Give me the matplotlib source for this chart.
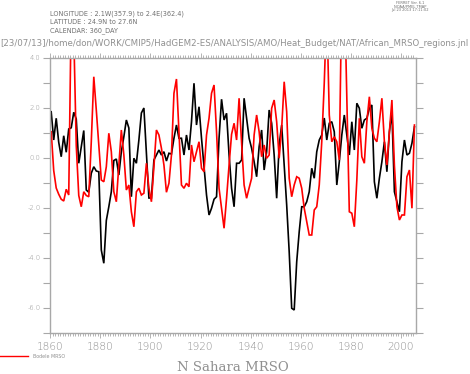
import numpy as np
import matplotlib
matplotlib.use("Agg")
import matplotlib.pyplot as plt
from matplotlib.ticker import MultipleLocator, FixedLocator, FuncFormatter

years = list(range(1860, 2006))

# N Sahara MRSO anomaly (black)
n_sahara = [
    1.85, 0.72, 1.59, 0.63, 0.05, 0.89, 0.23, 1.16, 1.21, 1.83,      # 1860s
    1.56, -0.21, 0.45, 1.10, -1.28, -1.37, -0.61, -0.35, -0.52, -0.55,  # 1870s
    -3.68, -4.21, -2.50, -1.95, -1.35, -0.10, -0.04, -0.68, 0.25, 0.85,  # 1880s
    1.52, 1.20, -1.55, -0.01, -0.21, 0.72, 1.80, 2.00, 0.20, -1.60,    # 1890s
    -1.60, -0.08, 0.12, 0.32, 0.12, 0.25, -0.12, 0.19, 0.16, 0.79,     # 1900s
    1.32, 0.79, 0.79, 0.12, 0.92, 0.32, 1.45, 2.99, 1.32, 2.05,        # 1910s
    0.79, -0.35, -1.48, -2.28, -2.01, -1.65, -1.55, 0.79, 2.35, 1.52,  # 1920s
    1.79, 0.12, -1.21, -1.95, -0.21, -0.21, -0.08, 2.39, 1.59, 0.79,   # 1930s
    0.39, -0.15, -0.75, 0.45, 1.12, -0.48, 0.25, 1.92, 1.39, 0.12,     # 1940s
    -1.61, 0.52, 1.32, -0.28, -1.88, -3.75, -6.01, -6.08, -4.15, -2.95,  # 1950s
    -1.95, -1.95, -1.75, -1.35, -0.41, -0.81, 0.25, 0.72, 0.92, 1.60,  # 1960s
    0.72, 1.39, 1.45, 1.05, -1.08, -0.15, 0.92, 1.72, 0.92, 0.12,      # 1970s
    1.45, 0.32, 2.19, 1.99, 1.19, 1.52, 1.59, 1.99, 2.12, -0.95,       # 1980s
    -1.61, -0.81, -0.15, 0.65, -0.55, 1.05, 1.85, -1.35, -1.75, -2.15,  # 1990s
    -0.15, 0.72, 0.12, 0.19, 0.59, 1.25,                               # 2000s
]

# Bodele MRSO anomaly (red)
bodele = [
    1.05, -0.50, -1.20, -1.45, -1.65, -1.72, -1.25, -1.48, 6.00, 5.00,  # 1860s
    0.50, -1.50, -1.95, -1.35, -1.50, -1.55, 0.65, 3.25, 1.92, 0.52,    # 1870s
    -0.88, -0.95, -0.35, 0.99, 0.25, -1.35, -1.75, -0.28, 1.12, 0.12,   # 1880s
    -1.28, -1.08, -2.15, -2.75, -1.35, -1.21, -1.48, -1.41, -0.21, -1.20,  # 1890s
    -1.75, -0.35, 1.12, 0.92, 0.39, -0.28, -1.37, -1.01, 0.12, 2.59,   # 1900s
    3.16, 1.00, -1.08, -1.21, -1.01, -1.15, 0.52, -0.15, 0.25, 0.65,   # 1910s
    -0.41, -0.55, 0.92, 1.59, 2.59, 2.92, 1.05, -1.21, -2.01, -2.81,   # 1920s
    -1.61, -0.28, 0.95, 1.39, 0.72, 2.39, 0.60, -1.08, -1.61, -1.20,   # 1930s
    -0.81, 0.92, 1.72, 1.05, 0.05, 0.52, -0.01, 0.12, 1.99, 2.32,      # 1940s
    1.45, -0.01, 1.19, 3.05, 1.85, -0.81, -1.55, -1.08, -0.75, -0.81,  # 1950s
    -1.21, -2.01, -2.55, -3.08, -3.08, -2.08, -1.95, -1.08, 0.65, 3.00,  # 1960s
    6.00, 1.72, 0.65, 0.85, 0.65, -0.08, 6.70, 7.00, 2.50, -2.15,      # 1970s
    -2.21, -2.75, -0.88, 1.59, 0.05, -0.21, 1.45, 2.45, 1.19, 0.79,    # 1980s
    0.65, 1.45, 2.39, 0.65, -0.28, 1.05, 2.32, -0.30, -1.95, -2.48,    # 1990s
    -2.28, -2.28, -0.75, -0.48, -2.01, 1.32,                           # 2000s
]

y_ticks = [-6, -4, -2, 0, 2, 4]
x_ticks = [1860, 1880, 1900, 1920, 1940, 1960, 1980, 2000]

W, H = 470, 374
fig = plt.figure(figsize=(W / 100, H / 100), dpi=100)
fig.patch.set_facecolor("white")

L, R, T, B = 50, 415.7, 58, 333
ax = fig.add_axes([L / W, 1 - B / H, (R - L) / W, (B - T) / H])

t = np.array(years) + 0.4
ax.plot(t, n_sahara, color="black", lw=1.2, solid_joinstyle="miter")
ax.plot(t, bodele, color="#ff0000", lw=1.2, solid_joinstyle="miter")

ax.set_xlim(1859.92, 2005.9)
ax.set_ylim(-7, 4)

gray = "#8c8c8c"
for s in ax.spines.values():
    s.set_color("#a8a8a8")
    s.set_linewidth(1.0)

ax.yaxis.set_major_locator(FixedLocator(y_ticks))
ax.yaxis.set_minor_locator(MultipleLocator(1))
ax.yaxis.set_major_formatter(FuncFormatter(lambda v, p: f"{v:.1f}"))
ax.xaxis.set_major_locator(FixedLocator(x_ticks))
ax.xaxis.set_minor_locator(MultipleLocator(1))
ax.xaxis.set_major_formatter(FuncFormatter(lambda v, p: f"{int(round(v))}"))

ax.tick_params(axis="y", which="both", direction="out", left=True, right=True,
               labelleft=True, labelright=False, color="#a8a8a8", width=0.8)
ax.tick_params(axis="y", which="major", length=5.0, labelsize=4.9,
               labelcolor=gray, pad=1.8)
ax.tick_params(axis="y", which="minor", length=5.0)
ax.tick_params(axis="x", which="both", direction="out", bottom=True, top=True,
               labeltop=False, color="#a8a8a8", width=0.6)
ax.tick_params(axis="x", which="major", length=3.6, labelsize=7.6,
               labelcolor=gray, pad=2.6)
ax.tick_params(axis="x", which="minor", length=2.0)
for lab in ax.get_xticklabels() + ax.get_yticklabels():
    lab.set_fontweight("light")

def ftext(x, y, s, **kw):
    fig.text(x / W, 1 - y / H, s, **kw)

hdr = dict(color="#707070", fontsize=4.7, va="center", ha="left")
ftext(49.5, 13.3, "LONGITUDE : 2.1W(357.9) to 2.4E(362.4)", **hdr)
ftext(49.5, 22.0, "LATITUDE : 24.9N to 27.6N", **hdr)
ftext(49.5, 30.5, "CALENDAR: 360_DAY", **hdr)

small = dict(color="#707070", fontsize=2.6, va="center", ha="center")
ftext(410, 2.5, "FERRET Ver. 6.1", **small)
ftext(410, 6.5, "NOAA/PMEL TMAP", **small)
ftext(410, 10.5, "Jul 23 2013 17:11:02", **small)

ftext(0, 43.7,
      "[23/07/13]/home/don/WORK/CMIP5/HadGEM2-ES/ANALYSIS/AMO/Heat_Budget/NAT/African_MRSO_regions.jnl",
      color="#909090", fontsize=6.25, va="center", ha="left")

# legend sample
fig.add_artist(plt.Line2D([0 / W, 28 / W], [1 - 356 / H, 1 - 356 / H],
                          color="#ff0000", lw=1.0))
ftext(33, 356, "Bodele MRSO", color="#909090", fontsize=3.4, va="center", ha="left")

ftext((L + R) / 2, 367.5, "N Sahara MRSO", color="#909090", fontsize=9.5,
      family="DejaVu Serif", va="center", ha="center")

fig.savefig("out.png", dpi=100, facecolor="white")
